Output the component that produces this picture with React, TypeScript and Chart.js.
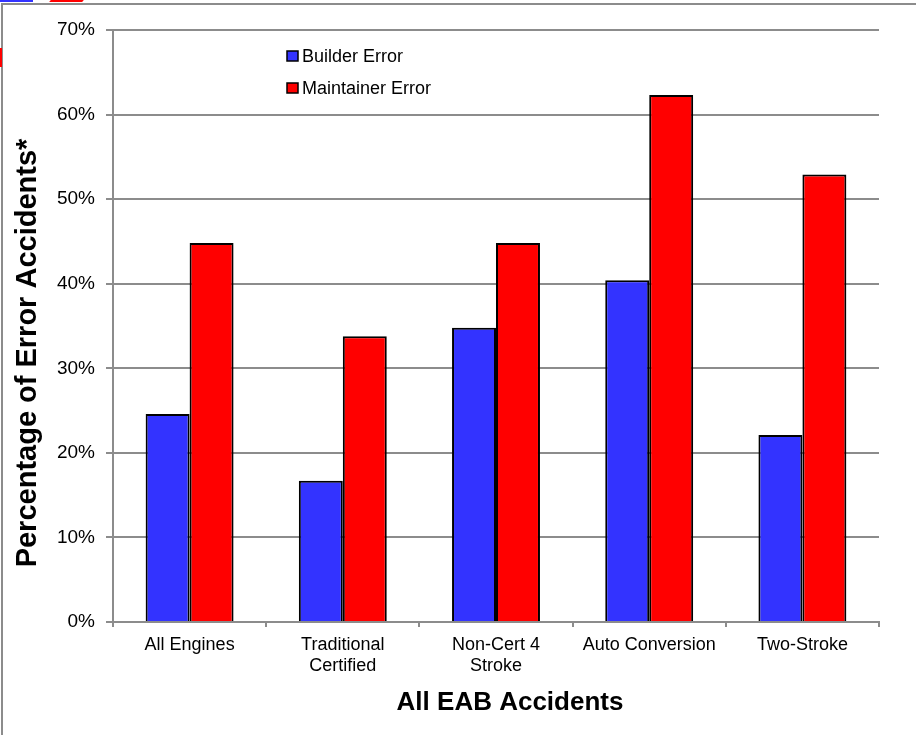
import React, { useEffect, useRef } from 'react';
import { Chart, registerables } from 'chart.js';

Chart.register(...registerables);

// Engine categories (multi-line labels as arrays)
const categories: (string | string[])[] = [
  'All Engines',
  ['Traditional', 'Certified'],
  ['Non-Cert 4', 'Stroke'],
  'Auto Conversion',
  'Two-Stroke',
];

// Share of error accidents, in percent
const builderError = [24.6, 16.7, 34.8, 40.4, 22.1];
const maintainerError = [44.8, 33.8, 44.8, 62.3, 52.9];

const seriesNames = ['Builder Error', 'Maintainer Error'];
const yTickValues = [0, 10, 20, 30, 40, 50, 60, 70];
const yTickLabels = ['0%', '10%', '20%', '30%', '40%', '50%', '60%', '70%'];

const xTitle = 'All EAB Accidents';
const yTitle = 'Percentage of Error Accidents*';

const FONT = '"Liberation Sans", Arial, Helvetica, sans-serif';
const GRID = '#8c8c8c';
const BLUE = '#3333ff';
const RED = '#ff0000';

// Legend drawn inside the plot area, stacked vertically
const insideLegend = {
  id: 'insideLegend',
  afterDraw(chart: any) {
    const { ctx, chartArea } = chart;
    const x0 = chartArea.left + 174;
    const y0 = chartArea.top + 26;
    const rowGap = 32;
    ctx.save();
    chart.data.datasets.forEach((ds: any, i: number) => {
      const cy = y0 + i * rowGap;
      ctx.fillStyle = ds.backgroundColor;
      ctx.fillRect(x0, cy - 5, 11, 10);
      ctx.lineWidth = 1.5;
      ctx.strokeStyle = '#000';
      ctx.strokeRect(x0, cy - 5, 11, 10);
      ctx.fillStyle = '#000';
      ctx.font = `18px ${FONT}`;
      ctx.textBaseline = 'middle';
      ctx.textAlign = 'left';
      ctx.fillText(ds.label, x0 + 15, cy + 1);
    });
    ctx.restore();
  },
};

// Axis titles placed by hand
const axisTitles = {
  id: 'axisTitles',
  afterDraw(chart: any) {
    const { ctx, chartArea } = chart;
    ctx.save();
    ctx.fillStyle = '#000';
    ctx.textAlign = 'center';
    ctx.textBaseline = 'alphabetic';
    ctx.font = `bold 26px ${FONT}`;
    ctx.fillText(xTitle, (chartArea.left + chartArea.right) / 2 + 14, 710);
    ctx.translate(36, (chartArea.top + chartArea.bottom) / 2 + 27);
    ctx.rotate(-Math.PI / 2);
    ctx.font = `bold 29px ${FONT}`;
    ctx.fillText(yTitle, 0, 0);
    ctx.restore();
  },
};

function ErrorChart() {
  const ref = useRef<HTMLCanvasElement | null>(null);

  useEffect(() => {
    if (!ref.current) return;
    const chart = new Chart(ref.current, {
      type: 'bar',
      data: {
        labels: categories,
        datasets: [
          {
            label: seriesNames[0],
            data: builderError,
            backgroundColor: BLUE,
            borderColor: '#000',
            borderWidth: 2,
            borderSkipped: 'start',
          },
          {
            label: seriesNames[1],
            data: maintainerError,
            backgroundColor: RED,
            borderColor: '#000',
            borderWidth: 2,
            borderSkipped: 'start',
          },
        ],
      },
      options: {
        animation: false,
        responsive: false,
        maintainAspectRatio: false,
        layout: { padding: { top: 30, right: 37, bottom: 0, left: 0 } },
        datasets: { bar: { categoryPercentage: 0.574, barPercentage: 1 } },
        plugins: {
          legend: { display: false },
          tooltip: { enabled: false },
        },
        scales: {
          x: {
            grid: {
              offset: true,
              drawOnChartArea: false,
              drawTicks: true,
              tickLength: 5,
              color: GRID,
              lineWidth: 2,
            },
            border: { display: true, color: GRID, width: 2 },
            ticks: {
              font: { family: FONT, size: 18, lineHeight: 1.2 },
              color: '#000',
              padding: 7,
              maxRotation: 0,
              autoSkip: false,
            },
            afterFit: (s: any) => {
              s.height = 113;
            },
          },
          y: {
            min: 0,
            max: 70,
            afterBuildTicks: (s: any) => {
              s.ticks = yTickValues.map((v) => ({ value: v }));
            },
            ticks: {
              font: { family: FONT, size: 19 },
              color: '#000',
              padding: 11,
              callback: (_v: any, i: number) => yTickLabels[i],
            },
            grid: { color: GRID, lineWidth: 2, tickLength: 7 },
            border: { display: true, color: GRID, width: 2 },
            afterFit: (s: any) => {
              s.width = 113;
            },
          },
        },
      },
      plugins: [insideLegend, axisTitles],
    });
    return () => chart.destroy();
  }, []);

  return <canvas ref={ref} width={916} height={735} style={{ display: 'block' }} />;
}

export default function App() {
  return (
    <div
      style={{
        position: 'absolute',
        left: 0,
        top: 0,
        width: 916,
        height: 735,
        background: '#fff',
        overflow: 'hidden',
      }}
    >
      <ErrorChart />
      {/* slide frame */}
      <div
        style={{
          position: 'absolute',
          left: 1,
          top: 3,
          right: -4,
          bottom: -4,
          borderTop: '2px solid #8c8c8c',
          borderLeft: '2px solid #8c8c8c',
          pointerEvents: 'none',
        }}
      />
      {/* corner stripes */}
      <div style={{ position: 'absolute', left: 0, top: 0, width: 33, height: 2, background: BLUE }} />
      <div style={{ position: 'absolute', left: 50, top: 0, width: 33, height: 2, background: RED, transform: 'skewX(-40deg)' }} />
      <div style={{ position: 'absolute', left: 0, top: 48, width: 2, height: 19, background: RED }} />
    </div>
  );
}
